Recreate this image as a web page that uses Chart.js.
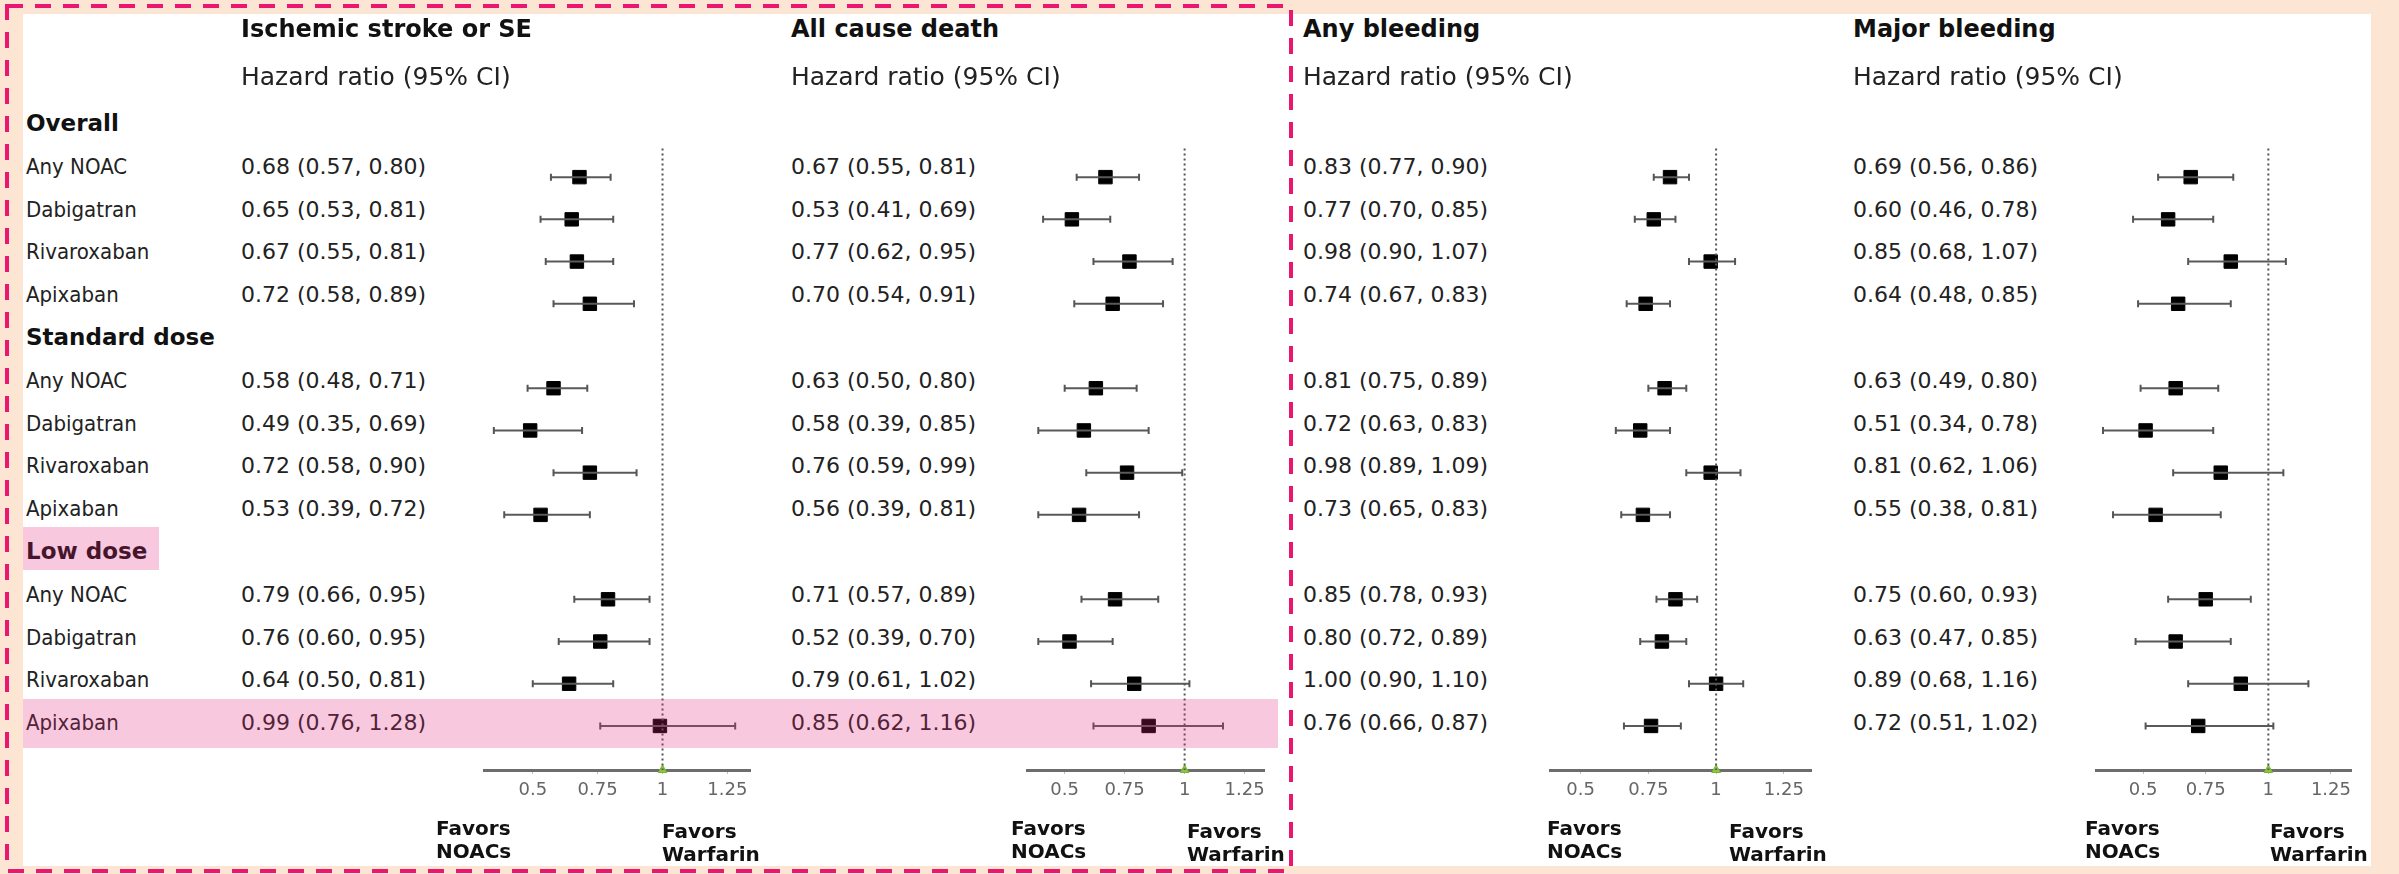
<!DOCTYPE html>
<html>
<head>
<meta charset="utf-8">
<script src="https://cdn.jsdelivr.net/npm/chart.js@4.4.1/dist/chart.umd.min.js"></script>
<style>
html, body { margin: 0; padding: 0; }
body { width: 2399px; height: 874px; background: #fde5d4; position: relative; overflow: hidden;
       font-family: "DejaVu Sans", Verdana, sans-serif; color: #222; }
#sheet { position: absolute; left: 23px; top: 14px; width: 2348px; height: 852px; background: #fff; }
canvas { position: absolute; top: 0; z-index: 1; }
.t { position: absolute; white-space: nowrap; transform: translateY(-50%); transform-origin: 0 50%;
     line-height: 1.2; z-index: 2; font-size: 22px; }
.lab { transform: translateY(-50%) scaleX(0.9); }
.title { font-weight: bold; font-size: 24px; color: #111; }
.sub { font-size: 25px; }
.grp { font-weight: bold; font-size: 23px; color: #111; }
.fav { position: absolute; font-weight: bold; font-size: 20px; line-height: 23px; color: #111; z-index: 2; white-space: nowrap; }
.hl { position: absolute; background: rgba(227, 39, 122, 0.25); z-index: 5; }
#frame { position: absolute; left: 0; top: 0; z-index: 6; }
</style>
</head>
<body>
<div id="sheet"></div>
<div class="hl" style="left:23px; top:527px; width:136px; height:43px;"></div>
<div class="hl" style="left:23px; top:699px; width:1255px; height:49px;"></div>
<svg id="frame" width="2399" height="874">
  <rect x="7" y="6" width="1284" height="865" fill="none" stroke="#ea1670" stroke-width="4" stroke-dasharray="16 12"/>
</svg>
<script>
// Rows
const groups = ['Overall', 'Standard dose', 'Low dose'];
const drugs = ['Any NOAC', 'Dabigatran', 'Rivaroxaban', 'Apixaban'];
const outcomes = ['Ischemic stroke or SE', 'All cause death', 'Any bleeding', 'Major bleeding'];
const xTicks = [0.5, 0.75, 1, 1.25];

// Hazard ratios (overall x4, standard dose x4, low dose x4)
const strokeHR  = [0.68, 0.65, 0.67, 0.72, 0.58, 0.49, 0.72, 0.53, 0.79, 0.76, 0.64, 0.99];
const strokeLo  = [0.57, 0.53, 0.55, 0.58, 0.48, 0.35, 0.58, 0.39, 0.66, 0.60, 0.50, 0.76];
const strokeHi  = [0.80, 0.81, 0.81, 0.89, 0.71, 0.69, 0.90, 0.72, 0.95, 0.95, 0.81, 1.28];

const deathHR   = [0.67, 0.53, 0.77, 0.70, 0.63, 0.58, 0.76, 0.56, 0.71, 0.52, 0.79, 0.85];
const deathLo   = [0.55, 0.41, 0.62, 0.54, 0.50, 0.39, 0.59, 0.39, 0.57, 0.39, 0.61, 0.62];
const deathHi   = [0.81, 0.69, 0.95, 0.91, 0.80, 0.85, 0.99, 0.81, 0.89, 0.70, 1.02, 1.16];

const anyBleedHR = [0.83, 0.77, 0.98, 0.74, 0.81, 0.72, 0.98, 0.73, 0.85, 0.80, 1.00, 0.76];
const anyBleedLo = [0.77, 0.70, 0.90, 0.67, 0.75, 0.63, 0.89, 0.65, 0.78, 0.72, 0.90, 0.66];
const anyBleedHi = [0.90, 0.85, 1.07, 0.83, 0.89, 0.83, 1.09, 0.83, 0.93, 0.89, 1.10, 0.87];

const majBleedHR = [0.69, 0.60, 0.85, 0.64, 0.63, 0.51, 0.81, 0.55, 0.75, 0.63, 0.89, 0.72];
const majBleedLo = [0.56, 0.46, 0.68, 0.48, 0.49, 0.34, 0.62, 0.38, 0.60, 0.47, 0.68, 0.51];
const majBleedHi = [0.86, 0.78, 1.07, 0.85, 0.80, 0.78, 1.06, 0.81, 0.93, 0.85, 1.16, 1.02];

const series = [
    { hr: strokeHR, lo: strokeLo, hi: strokeHi },
    { hr: deathHR, lo: deathLo, hi: deathHi },
    { hr: anyBleedHR, lo: anyBleedLo, hi: anyBleedHi },
    { hr: majBleedHR, lo: majBleedLo, hi: majBleedHi }
];

// Layout
const H = 874, ROW0 = 124, ROWH = 42.8, AXIS_Y = 770, REF_TOP = 140;
const panels = [
    { textX: 241,  one: 666,  ppu: 280, min: 0.314, max: 1.339, noacX: 436,  warfX: 662 },
    { textX: 791,  one: 1188, ppu: 261, min: 0.345, max: 1.333, noacX: 1011, warfX: 1187 },
    { textX: 1303, one: 1719, ppu: 293, min: 0.389, max: 1.352, noacX: 1547, warfX: 1729 },
    { textX: 1853, one: 2272, ppu: 271, min: 0.314, max: 1.332, noacX: 2085, warfX: 2270 }
];
const yMin = -ROW0 / ROWH;
const yMax = (AXIS_Y - ROW0) / ROWH;

function rowOf(k) { return Math.floor(k / 4) * 5 + 1 + k % 4; }
function rowY(r) { return ROW0 + r * ROWH; }
function fmt(v) { return v.toFixed(2); }

function addText(txt, x, y, cls) {
    const d = document.createElement('div');
    d.className = 't ' + (cls || '');
    d.textContent = txt;
    d.style.left = x + 'px';
    d.style.top = y + 'px';
    document.body.appendChild(d);
    return d;
}

// Left label column
groups.forEach((g, gi) => {
    addText(g, 26, rowY(gi * 5), 'grp');
    drugs.forEach((d, di) => addText(d, 26, rowY(gi * 5 + 1 + di), 'lab'));
});

function buildPanel(p, s, title) {
    addText(title, p.textX, 29, 'title');
    addText('Hazard ratio (95% CI)', p.textX, 77, 'sub');
    s.hr.forEach((v, k) => {
        addText(`${fmt(v)} (${fmt(s.lo[k])}, ${fmt(s.hi[k])})`, p.textX, rowY(rowOf(k)));
    });

    const fav1 = document.createElement('div');
    fav1.className = 'fav';
    fav1.innerHTML = 'Favors<br>NOACs';
    fav1.style.left = p.noacX + 'px'; fav1.style.top = '817px';
    document.body.appendChild(fav1);
    const fav2 = document.createElement('div');
    fav2.className = 'fav';
    fav2.innerHTML = 'Favors<br>Warfarin';
    fav2.style.left = p.warfX + 'px'; fav2.style.top = '820px';
    document.body.appendChild(fav2);

    const canvas = document.createElement('canvas');
    const w = Math.round((p.max - p.min) * p.ppu);
    canvas.width = w; canvas.height = H;
    canvas.style.left = Math.round(p.one - (1 - p.min) * p.ppu) + 'px';
    canvas.style.width = w + 'px'; canvas.style.height = H + 'px';
    document.body.appendChild(canvas);

    const datasets = [];
    // reference line at HR = 1
    datasets.push({
        data: [{ x: 1, y: (REF_TOP - ROW0) / ROWH }, { x: 1, y: yMax }],
        showLine: true, borderColor: '#555', borderWidth: 2, borderDash: [2, 3], pointRadius: 0
    });
    // confidence intervals
    s.hr.forEach((v, k) => {
        const r = rowOf(k) + 0.05;
        datasets.push({
            data: [{ x: s.lo[k], y: r }, { x: s.hi[k], y: r }],
            showLine: true, borderColor: '#5a5a5a', borderWidth: 2,
            pointStyle: 'line', pointRotation: 90, pointRadius: 3.5, pointBorderWidth: 2,
            pointBorderColor: '#555', pointBackgroundColor: '#555'
        });
    });
    // point estimates
    datasets.push({
        data: s.hr.map((v, k) => ({ x: v, y: rowOf(k) + 0.05 })),
        pointStyle: 'rect', pointRadius: 9.5, backgroundColor: '#000', borderColor: '#000', borderWidth: 1
    });
    // marker on the axis
    datasets.push({
        data: [{ x: 1, y: yMax }],
        pointStyle: 'triangle', pointRadius: 5, backgroundColor: '#8cc63e', borderColor: '#7ab534',
        borderWidth: 1, clip: false
    });

    new Chart(canvas.getContext('2d'), {
        type: 'scatter',
        data: { datasets: datasets },
        options: {
            responsive: false, animation: false, events: [], devicePixelRatio: 1,
            layout: { padding: 0 },
            plugins: { legend: { display: false }, tooltip: { enabled: false } },
            scales: {
                x: {
                    type: 'linear', position: 'bottom', min: p.min, max: p.max,
                    afterBuildTicks: sc => { sc.ticks = xTicks.map(v => ({ value: v })); },
                    afterFit: sc => { sc.height = H - AXIS_Y; },
                    border: { display: true, color: '#6d6d6d', width: 3 },
                    grid: { display: true, drawOnChartArea: false, drawTicks: true, tickLength: 4, color: '#bbb' },
                    ticks: {
                        color: '#666', padding: 6, maxRotation: 0, autoSkip: false,
                        font: { family: 'DejaVu Sans', size: 18 },
                        callback: v => String(v)
                    }
                },
                y: { type: 'linear', display: false, reverse: true, min: yMin, max: yMax }
            }
        }
    });
}

window.onload = () => {
    panels.forEach((p, i) => buildPanel(p, series[i], outcomes[i]));
};
</script>
</body>
</html>
